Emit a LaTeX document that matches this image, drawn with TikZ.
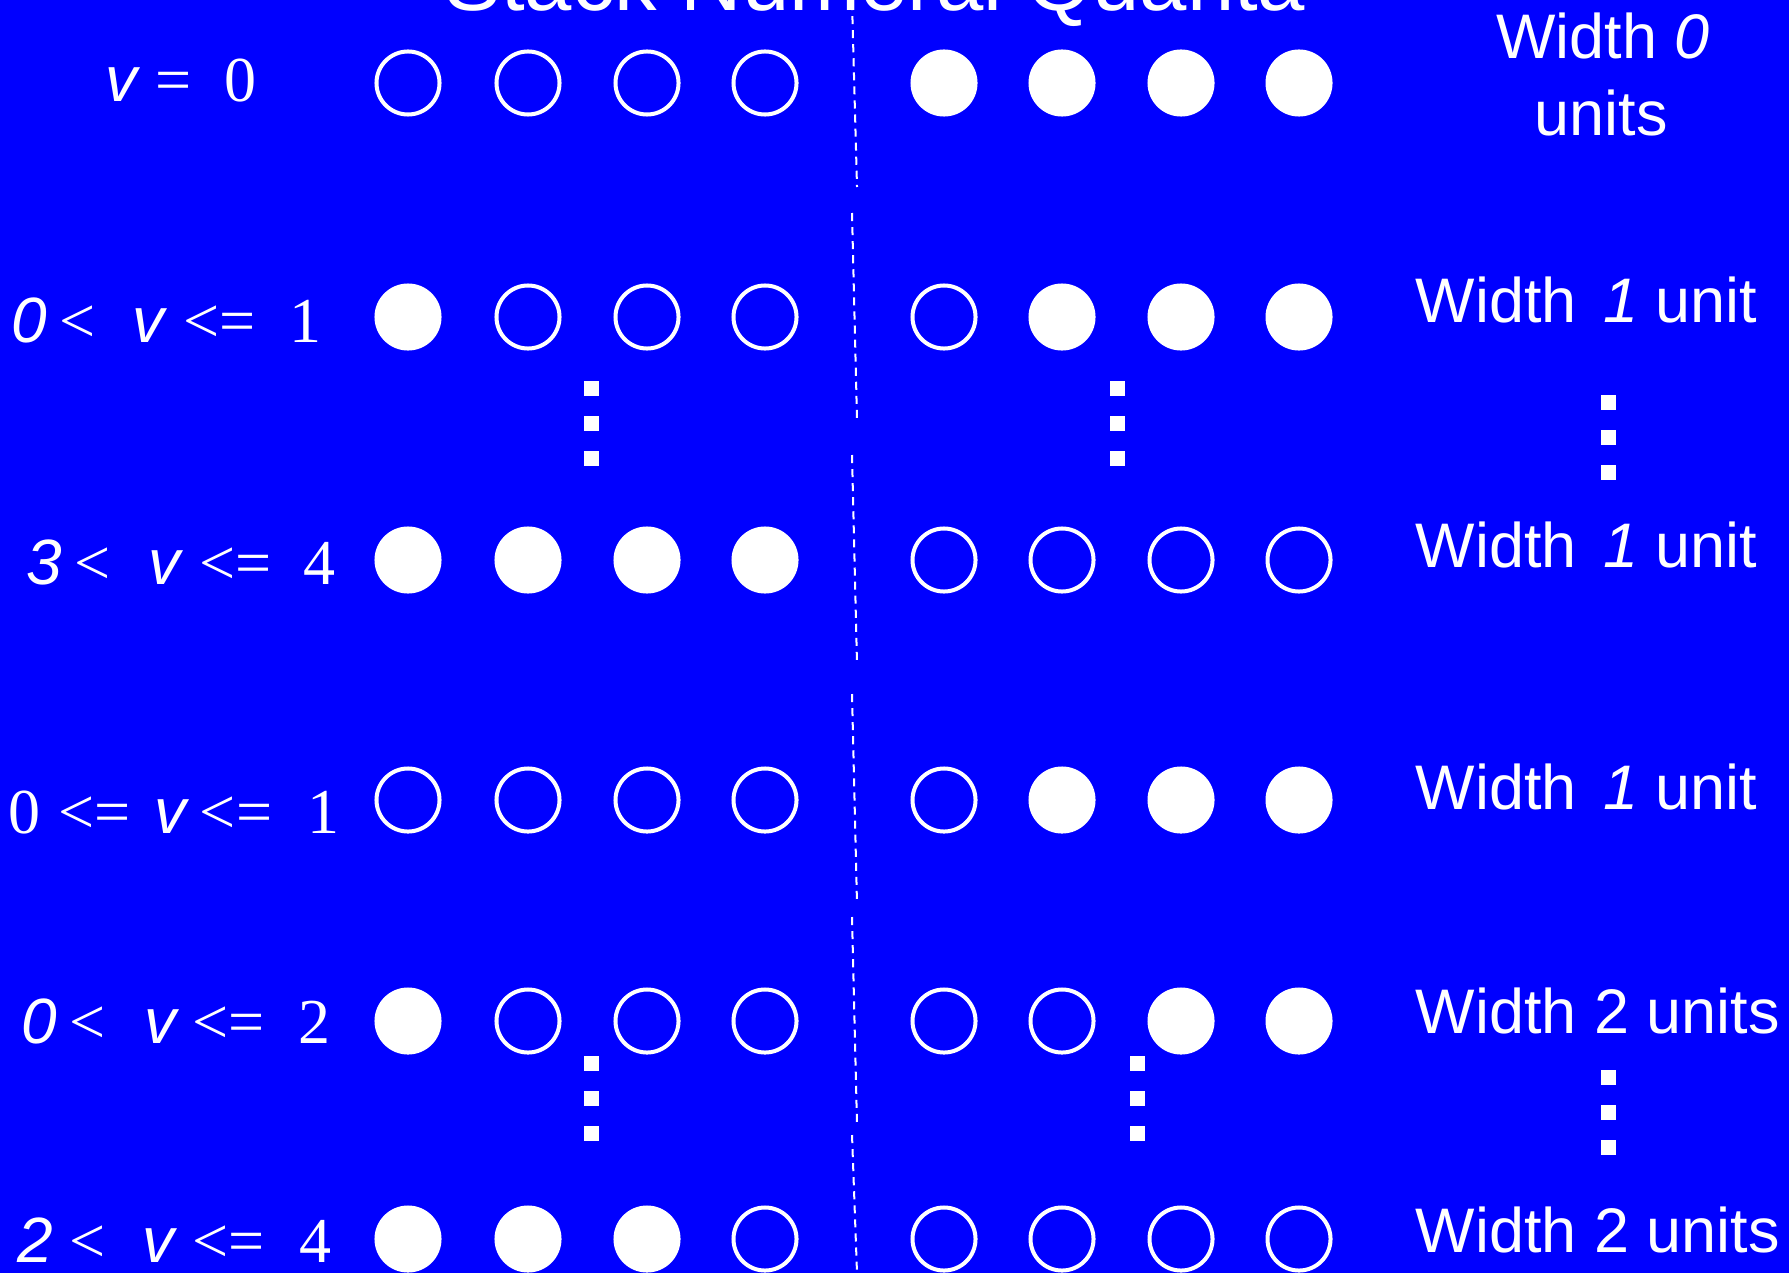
\documentclass[tikz,border=0pt]{standalone}
\usepackage{fontspec}
\setmainfont{Liberation Serif}
\setsansfont{Liberation Sans}
\definecolor{field}{HTML}{0000FF}
\newlength{\pxu}
\setlength{\pxu}{0.01cm}
\newcommand{\si}[1]{\textsf{\textit{#1}}}
\newcommand{\RowGap}{35}

\begin{document}
\begin{tikzpicture}[
    x=0.01cm, y=-0.01cm, white,
    quant0/.style={circle, draw=white, line width=1.14pt, minimum size=0.63cm, inner sep=0pt},
    quant1/.style={quant0, fill=white},
    pip/.style={rectangle, fill=white, minimum size=0.15cm, inner sep=0pt},
    divider/.style={draw=white, line width=0.57pt, dash pattern=on 2.3pt off 1.7pt},
    cond/.style={anchor=base west, inner sep=0pt, font=\fontsize{18.2}{22}\selectfont},
    unitlabel/.style={inner sep=0pt, font=\sffamily\fontsize{17.9}{22}\selectfont},
  ]
\useasboundingbox (0,0) rectangle (1789,1273);
\fill[field] (0,0) rectangle (1789,1273);

\node[anchor=base, inner sep=0pt, font=\sffamily\fontsize{24.2}{29}\selectfont] (title) at (875,11) {Stack Numeral Quanta};

% The split between the two stacks, drawn in pieces.
\foreach \ya/\yb in {2/187, 213/420, 455/664, 694/904, 917/1125, 1135/1273}
  \draw[divider] (852,\ya) -- (857,\yb);

% Each row: its height and the eight quanta, 1 for a lit one.
\foreach \r/\y/\a/\b/\c/\d/\e/\f/\g/\h in {
    1/83/0/0/0/0/1/1/1/1,
    2/317/1/0/0/0/0/1/1/1,
    3/560/1/1/1/1/0/0/0/0,
    4/800/0/0/0/0/0/1/1/1,
    5/1021/1/0/0/0/0/0/1/1,
    6/1239/1/1/1/0/0/0/0/0} {
  \foreach \x/\s [count=\k] in {408/\a, 528/\b, 647/\c, 765/\d, 944/\e, 1062/\f, 1181/\g, 1299/\h}
    \node[quant\s] (q\r\k) at (\x,\y) {};
}

% Vertical ellipses between the rows.
\foreach \x/\y [count=\n] in {591/388, 1117/388, 1608/402, 591/1063, 1137/1063, 1608/1077}
  \foreach \j in {0,1,2}
    \node[pip] (e\n\j) at (\x, \y + \j*\RowGap) {};

% Range of v for each row.
\node[cond] (v1) at (105,102) {\si{v}\hspace{15\pxu}=\hspace{33\pxu}0};
\node[cond] (v2) at (11,342) {\si{0}\hspace{12\pxu}<\hspace{37\pxu}\si{v}\hspace{16\pxu}<=\hspace{34\pxu}1};
\node[cond] (v3) at (26,584) {\si{3}\hspace{12\pxu}<\hspace{38\pxu}\si{v}\hspace{16\pxu}<=\hspace{32\pxu}4};
\node[cond] (v4) at (8,833) {0\hspace{18\pxu}<=\hspace{24\pxu}\si{v}\hspace{10\pxu}<=\hspace{35\pxu}1};
\node[cond] (v5) at (21,1043) {\si{0}\hspace{12\pxu}<\hspace{39\pxu}\si{v}\hspace{13\pxu}<=\hspace{34\pxu}2};
\node[cond] (v6) at (17,1262) {\si{2}\hspace{16\pxu}<\hspace{37\pxu}\si{v}\hspace{15\pxu}<=\hspace{35\pxu}4};

% Widths on the right.
\node[unitlabel, anchor=base] (w1) at (1603,59) {Width \textit{0}};
\node[unitlabel, anchor=base] (w1b) at (1601,136) {units};
\foreach \r/\y/\txt in {
    2/322/{Width\hspace{9\pxu} \textit{1} unit},
    3/567/{Width\hspace{9\pxu} \textit{1} unit},
    4/809/{Width\hspace{9\pxu} \textit{1} unit},
    5/1033/{Width 2 units},
    6/1252/{Width 2 units}}
  \node[unitlabel, anchor=base west] (w\r) at (1415,\y) {\txt};

\end{tikzpicture}
\end{document}
